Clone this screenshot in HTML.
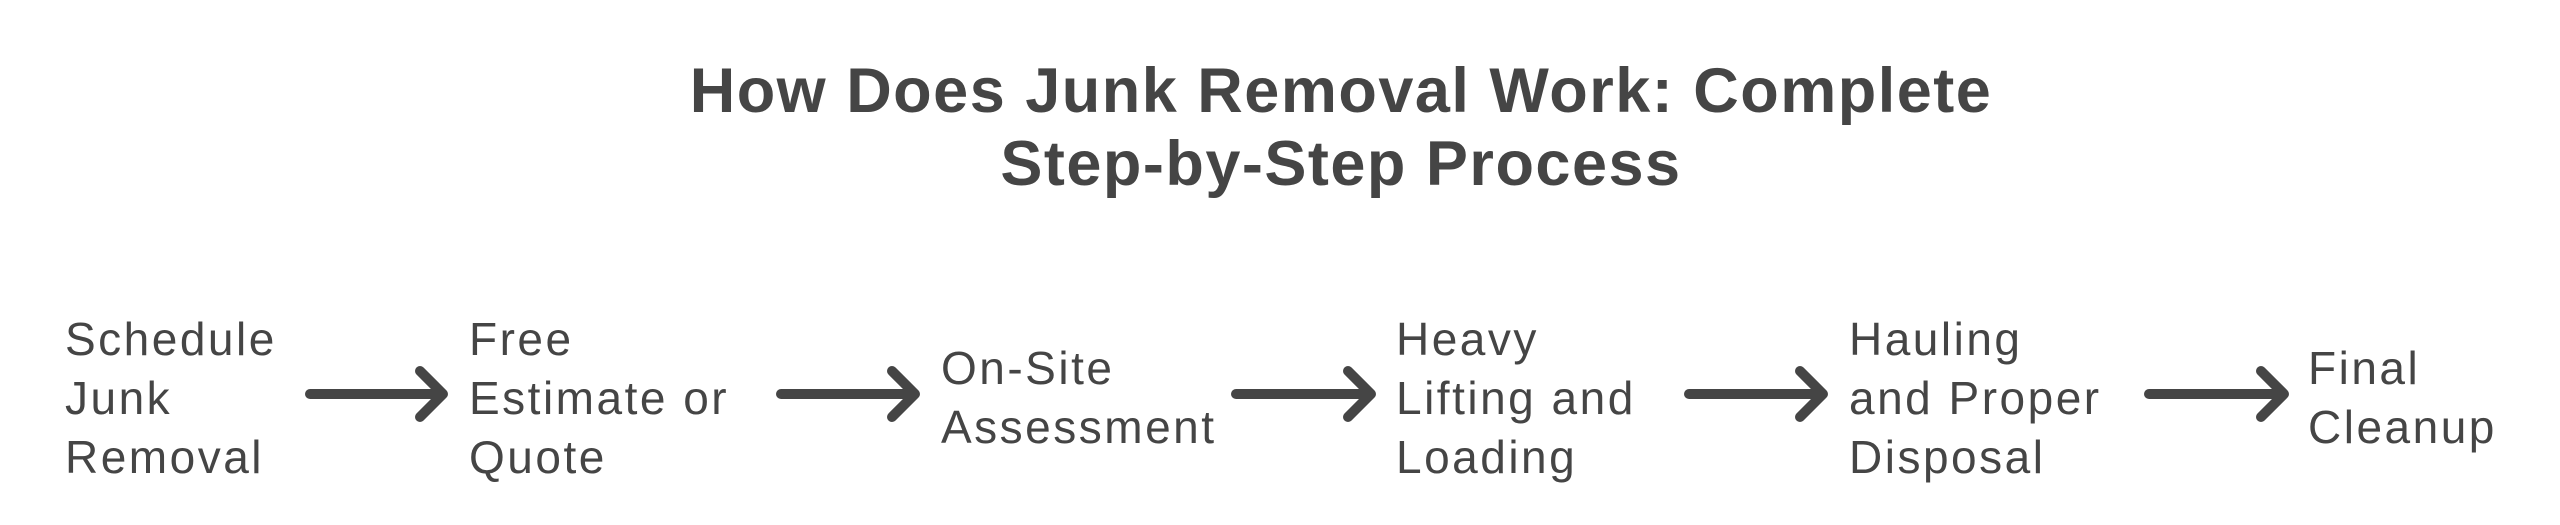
<!DOCTYPE html>
<html><head><meta charset="utf-8"><style>
html,body{margin:0;padding:0;background:#fff;}
body{width:2560px;height:525px;position:relative;overflow:hidden;font-family:"Liberation Sans",sans-serif;color:#454545;}
.t{position:absolute;left:0;width:2682px;text-align:center;font-weight:bold;font-size:63px;letter-spacing:1.5px;line-height:73px;top:55px;}
.n{position:absolute;font-size:46px;letter-spacing:2.5px;line-height:59px;white-space:nowrap;}
svg{position:absolute;left:0;top:0;}
</style></head><body>
<div class="t">How Does Junk Removal Work: Complete<br>Step-by-Step Process</div>
<div class="n" style="left:65px;top:310px">Schedule<br>Junk<br>Removal</div>
<div class="n" style="left:469px;top:310px">Free<br>Estimate or<br>Quote</div>
<div class="n" style="left:941px;top:339px">On-Site<br>Assessment</div>
<div class="n" style="left:1396px;top:310px">Heavy<br>Lifting and<br>Loading</div>
<div class="n" style="left:1849px;top:310px">Hauling<br>and Proper<br>Disposal</div>
<div class="n" style="left:2308px;top:339px">Final<br>Cleanup</div>
<svg width="2560" height="525" fill="none" stroke="#454545" stroke-width="10" stroke-linecap="round" stroke-linejoin="round">
<g>
<path d="M310 394 L442 394 M420 371 L443 394 L420 417"/>
<path d="M781 394 L914 394 M892 371 L915 394 L892 417"/>
<path d="M1236 394 L1370 394 M1348 371 L1371 394 L1348 417"/>
<path d="M1689 394 L1822 394 M1800 371 L1823 394 L1800 417"/>
<path d="M2149 394 L2283 394 M2261 371 L2284 394 L2261 417"/>
</g>
</svg>
</body></html>
